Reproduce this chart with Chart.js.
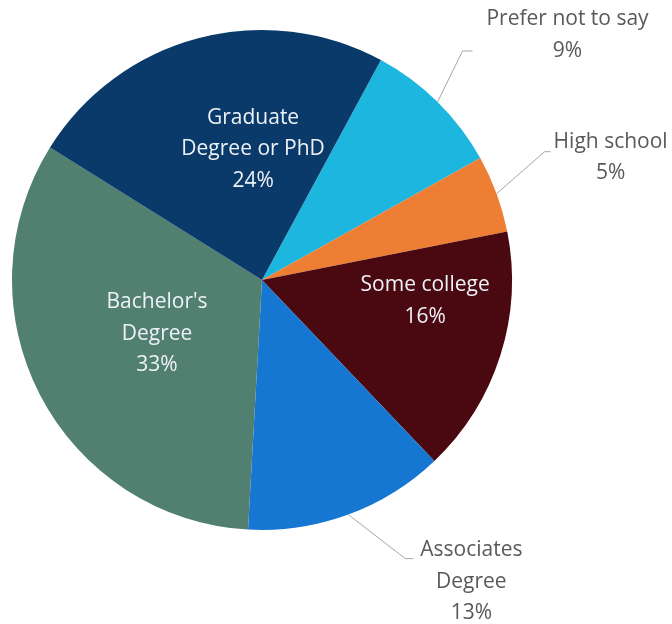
<!DOCTYPE html>
<html>
<head>
<meta charset="utf-8">
<script src="https://cdn.jsdelivr.net/npm/chart.js@4.4.1/dist/chart.umd.min.js"></script>
<style>
  html, body { margin: 0; padding: 0; background: #ffffff; }
  #wrap { width: 672px; height: 624px; }
</style>
</head>
<body>
<div id="wrap"><canvas id="educationPie" width="672" height="624"></canvas></div>
<script>
// Education level of respondents (share of total, %)
const categories = ['Prefer not to say', 'High school', 'Some college', 'Associates Degree', "Bachelor's Degree", 'Graduate Degree or PhD'];
const shares = [9, 5, 16, 13, 33, 24];
// how each category name is broken over lines in its label
const labelLines = [['Prefer not to say'], ['High school'], ['Some college'], ['Associates', 'Degree'], ["Bachelor's", 'Degree'], ['Graduate', 'Degree or PhD']];

const sliceColors = ['#1cb6df', '#ee7e33', '#4a0911', '#1677d2', '#517f70', '#0a3a6a'];

// label placement: inside labels are shifted from the arc centre point,
// outside labels hang off the outer edge with an elbowed leader line
const labelPlacement = [
  { outside: true, dx: 130, dy: -67, elbow: [25, -51], tail: [35, -51] },
  { outside: true, dx: 114, dy: -36, elbow: [48, -42], tail: [54, -42] },
  { outside: false, dx: 44, dy: -17 },
  { outside: true, dx: 123, dy: 67, elbow: [57, 44], tail: [65, 44] },
  { outside: false, dx: 6, dy: -4 },
  { outside: false, dx: 23, dy: -10 }
];

const LINE_H = 31.5;

const pieLabels = {
  id: 'pieLabels',
  afterDatasetsDraw(chart) {
    const ctx = chart.ctx;
    const meta = chart.getDatasetMeta(0);
    ctx.save();
    ctx.font = '21px "Open Sans", Lato, sans-serif';
    ctx.textAlign = 'center';
    ctx.textBaseline = 'middle';
    meta.data.forEach((arc, i) => {
      const p = labelPlacement[i];
      const lines = labelLines[i].concat([shares[i] + '%']);
      const { x, y, startAngle, endAngle, outerRadius } = arc.getProps(['x', 'y', 'startAngle', 'endAngle', 'outerRadius'], true);
      let cx, cy;
      if (p.outside) {
        const mid = (startAngle + endAngle) / 2;
        const ex = x + Math.cos(mid) * outerRadius;
        const ey = y + Math.sin(mid) * outerRadius;
        ctx.strokeStyle = '#a6a6a6';
        ctx.lineWidth = 1;
        ctx.beginPath();
        ctx.moveTo(ex, ey);
        ctx.lineTo(ex + p.elbow[0], ey + p.elbow[1]);
        ctx.lineTo(ex + p.tail[0], ey + p.tail[1]);
        ctx.stroke();
        cx = ex + p.dx;
        cy = ey + p.dy;
        ctx.fillStyle = '#595959';
      } else {
        const c = arc.getCenterPoint(true);
        cx = c.x + p.dx;
        cy = c.y + p.dy;
        ctx.fillStyle = '#eef2f6';
      }
      const top = cy - (lines.length - 1) * LINE_H / 2;
      lines.forEach((t, k) => ctx.fillText(t, cx, top + k * LINE_H));
    });
    ctx.restore();
  }
};

new Chart(document.getElementById('educationPie'), {
  type: 'pie',
  data: {
    labels: categories,
    datasets: [{
      data: shares,
      backgroundColor: sliceColors,
      borderWidth: 0,
      hoverOffset: 0,
      offset: 0
    }]
  },
  options: {
    responsive: false,
    animation: false,
    events: [],
    rotation: 28.4,
    layout: { padding: { left: 12, right: 160, top: 30, bottom: 94 } },
    plugins: {
      legend: { display: false },
      tooltip: { enabled: false }
    }
  },
  plugins: [pieLabels]
});
</script>
</body>
</html>
